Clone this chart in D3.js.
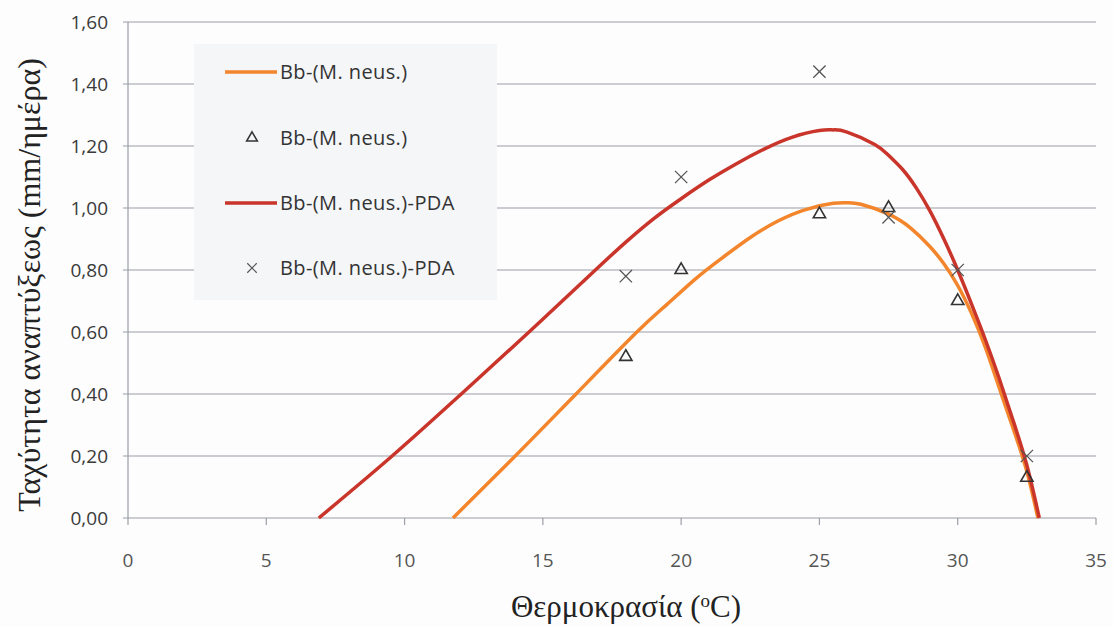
<!DOCTYPE html>
<html>
<head>
<meta charset="utf-8">
<script src="https://cdn.jsdelivr.net/npm/d3@7"></script>
<style>
  body { margin: 0; background: #fdfdfd; }
  #chart { width: 1113px; height: 627px; }
</style>
</head>
<body>
<div id="chart"></div>
<script>

// ticks
var xTicks = [0, 5, 10, 15, 20, 25, 30, 35];
var yTicks = [0, 0.2, 0.4, 0.6, 0.8, 1.0, 1.2, 1.4, 1.6];

// observed points
var obsTemp = [18, 20, 25, 27.5, 30, 32.5];
var obsRate = [0.52, 0.80, 0.98, 1.00, 0.70, 0.13];
var obsRatePDA = [0.78, 1.10, 1.44, 0.97, 0.80, 0.20];

// fitted curves
var fitTemp = [11.75, 14.0, 16.2, 18.4, 19.5, 20.5, 21.5, 22.5, 23.5, 24.5, 25.5, 26.0, 26.5, 27.5, 28.3, 29.0, 29.5, 30.0, 30.5, 31.0, 31.5, 32.0, 32.5, 32.9];
var fitRate = [0, 0.2, 0.4, 0.6, 0.69, 0.77, 0.84, 0.905, 0.958, 0.995, 1.015, 1.017, 1.012, 0.98, 0.935, 0.875, 0.82, 0.75, 0.66, 0.55, 0.42, 0.29, 0.15, 0];

var fitTempPDA = [6.9, 9.55, 12.05, 14.5, 16.9, 18.0, 19.0, 20.0, 21.0, 22.0, 23.0, 24.0, 25.0, 25.5, 26.0, 27.0, 27.5, 28.0, 28.5, 29.0, 29.5, 30.0, 30.5, 31.0, 31.5, 32.0, 32.5, 32.95];
var fitRatePDA = [0, 0.2, 0.4, 0.6, 0.8, 0.89, 0.965, 1.03, 1.09, 1.143, 1.19, 1.228, 1.25, 1.252, 1.245, 1.205, 1.17, 1.125, 1.065, 0.99, 0.90, 0.80, 0.69, 0.575, 0.45, 0.315, 0.17, 0];

var legendLabels = ["Bb-(M. neus.)", "Bb-(M. neus.)", "Bb-(M. neus.)-PDA", "Bb-(M. neus.)-PDA"];

var orange = "#f3852c";
var red = "#c9352a";

var width = 1113, height = 627;
var svg = d3.select("#chart")
    .append("svg")
    .attr("width", width)
    .attr("height", height);

var x = d3.scaleLinear().domain([0, 35]).range([128, 1096]);
var y = d3.scaleLinear().domain([0, 1.6]).range([518, 22]);

var greek = d3.formatLocale({decimal: ",", thousands: ".", grouping: [3], currency: ["", ""]});
var fmt = greek.format(".2f");

// horizontal gridlines (with little outer tick)
svg.append("g")
    .selectAll("line")
    .data(yTicks)
    .enter()
    .append("line")
    .attr("x1", x(0) - 5)
    .attr("x2", x(35))
    .attr("y1", function(d){ return y(d); })
    .attr("y2", function(d){ return y(d); })
    .attr("stroke", "#9a9ea7")
    .attr("stroke-width", 1.2);

// y axis line
svg.append("line")
    .attr("x1", x(0)).attr("x2", x(0))
    .attr("y1", y(1.6)).attr("y2", y(0))
    .attr("stroke", "#9a9ea7")
    .attr("stroke-width", 1.2);

// x ticks
svg.append("g")
    .selectAll("line")
    .data(xTicks)
    .enter()
    .append("line")
    .attr("x1", function(d){ return x(d); })
    .attr("x2", function(d){ return x(d); })
    .attr("y1", y(0))
    .attr("y2", y(0) + 7)
    .attr("stroke", "#9a9ea7")
    .attr("stroke-width", 1.2);

svg.append("g")
    .selectAll("text")
    .data(yTicks)
    .enter()
    .append("text")
    .attr("x", 108)
    .attr("y", function(d){ return y(d) + 7; })
    .attr("text-anchor", "end")
    .attr("font-family", "Open Sans, sans-serif")
    .attr("font-size", "19px")
    .attr("fill", "#3a3a3a")
    .text(function(d){ return fmt(d); });

svg.append("g")
    .selectAll("text")
    .data(xTicks)
    .enter()
    .append("text")
    .attr("x", function(d){ return x(d); })
    .attr("y", 567)
    .attr("text-anchor", "middle")
    .attr("font-family", "Open Sans, sans-serif")
    .attr("font-size", "19px")
    .attr("fill", "#555")
    .text(function(d){ return d; });

// axis titles
var xt = svg.append("text")
    .attr("x", 626)
    .attr("y", 617)
    .attr("text-anchor", "middle")
    .attr("font-family", "Liberation Serif, serif")
    .attr("font-size", "31px")
    .attr("fill", "#222");
xt.append("tspan").text("Θερμοκρασία (");
xt.append("tspan").attr("baseline-shift", "super").attr("font-size", "19px").text("o");
xt.append("tspan").text("C)");

svg.append("text")
    .attr("transform", "translate(40,285) rotate(-90)")
    .attr("text-anchor", "middle")
    .attr("font-family", "Liberation Serif, serif")
    .attr("font-size", "32px")
    .attr("fill", "#222")
    .text("Ταχύτητα αναπτύξεως (mm/ημέρα)");

// legend box covers the gridlines
svg.append("rect")
    .attr("x", 194)
    .attr("y", 44)
    .attr("width", 303)
    .attr("height", 256)
    .attr("fill", "#f4f6f8");

var legY = [72, 138, 203, 268];
var leg = svg.append("g");
leg.append("line").attr("x1", 225).attr("x2", 277).attr("y1", legY[0]).attr("y2", legY[0])
    .attr("stroke", orange).attr("stroke-width", 3.5);
leg.append("path").attr("d", d3.symbol().type(d3.symbolTriangle).size(50)())
    .attr("transform", "translate(252," + legY[1] + ")")
    .attr("fill", "none").attr("stroke", "#333").attr("stroke-width", 1.5);
leg.append("line").attr("x1", 225).attr("x2", 277).attr("y1", legY[2]).attr("y2", legY[2])
    .attr("stroke", red).attr("stroke-width", 3.5);
leg.append("path").attr("d", d3.symbol().type(d3.symbolTimes).size(60)())
    .attr("transform", "translate(252," + legY[3] + ")")
    .attr("fill", "none").attr("stroke", "#555").attr("stroke-width", 1.2);
leg.selectAll("text")
    .data(legendLabels)
    .enter()
    .append("text")
    .attr("x", 280)
    .attr("y", function(d, i){ return legY[i] + 7; })
    .attr("font-family", "Open Sans, sans-serif")
    .attr("font-size", "20px")
    .attr("letter-spacing", "0.4px")
    .attr("fill", "#333")
    .text(function(d){ return d; });

// curves
var line = d3.line()
    .x(function(d){ return x(d[0]); })
    .y(function(d){ return y(d[1]); })
    .curve(d3.curveNatural);

svg.append("path")
    .datum(d3.zip(fitTemp, fitRate))
    .attr("d", line)
    .attr("fill", "none")
    .attr("stroke", orange)
    .attr("stroke-width", 3.5);

svg.append("path")
    .datum(d3.zip(fitTempPDA, fitRatePDA))
    .attr("d", line)
    .attr("fill", "none")
    .attr("stroke", red)
    .attr("stroke-width", 3.5);

// markers
svg.append("g")
    .selectAll("path")
    .data(d3.zip(obsTemp, obsRate))
    .enter()
    .append("path")
    .attr("d", d3.symbol().type(d3.symbolTriangle).size(65)())
    .attr("transform", function(d){ return "translate(" + x(d[0]) + "," + y(d[1]) + ")"; })
    .attr("fill", "none")
    .attr("stroke", "#333")
    .attr("stroke-width", 1.6);

svg.append("g")
    .selectAll("path")
    .data(d3.zip(obsTemp, obsRatePDA))
    .enter()
    .append("path")
    .attr("d", d3.symbol().type(d3.symbolTimes).size(100)())
    .attr("transform", function(d){ return "translate(" + x(d[0]) + "," + y(d[1]) + ")"; })
    .attr("fill", "none")
    .attr("stroke", "#555")
    .attr("stroke-width", 1.3);

</script>
</body>
</html>
